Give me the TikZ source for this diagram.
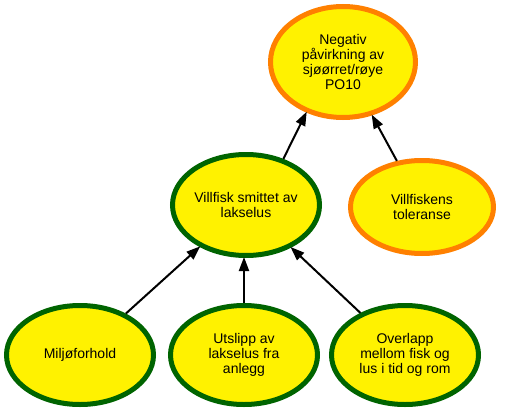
\documentclass[tikz,border=0pt]{standalone}
\usepackage{fontspec}
\setmainfont{Liberation Sans}
\usetikzlibrary{shapes.geometric,arrows.meta}
\definecolor{gulfyll}{RGB}{255,242,0}
\definecolor{morkgronn}{RGB}{0,100,0}
\definecolor{oransje}{RGB}{255,128,0}
\begin{document}
\begin{tikzpicture}[x=1pt,y=1pt,
 boble/.style={ellipse,fill=gulfyll,line width=5pt,inner sep=0pt,align=center,
  font=\fontsize{14}{15}\selectfont,minimum width=147pt,minimum height=99pt},
 gronn/.style={boble,draw=morkgronn},
 oransj/.style={boble,draw=oransje},
 pil/.style={-{Triangle[length=14pt,width=10pt]},line width=2pt,shorten >=-1pt}]
 \useasboundingbox (0,0) rectangle (505,413);
 % effekt
 \node[oransj,minimum width=145pt,minimum height=111pt] (topp) at (343,351) {Negativ\\påvirkning av\\sjøørret/røye\\PO10};
 % midten
 \node[gronn,minimum height=101pt] (smitte) at (246,208) {Villfisk smittet av\\lakselus};
 \node[oransj,minimum width=143pt,minimum height=93pt] (toleranse) at (422,206) {Villfiskens\\toleranse};
 % faktorer
 \node[gronn] (miljo) at (80,58) {Miljøforhold};
 \node[gronn] (utslipp) at (244,58) {Utslipp av\\lakselus fra\\anlegg};
 \node[gronn] (overlapp) at (405,58) {Overlapp\\mellom fisk og\\lus i tid og rom};
 % piler
 \draw[pil] (miljo) -- (smitte);
 \draw[pil] (utslipp) -- (utslipp|-smitte.south);
 \draw[pil] (overlapp) -- (smitte);
 \draw[pil] (smitte.51) -- (topp.234);
 \draw[pil] (toleranse) -- (topp);
\end{tikzpicture}
\end{document}
